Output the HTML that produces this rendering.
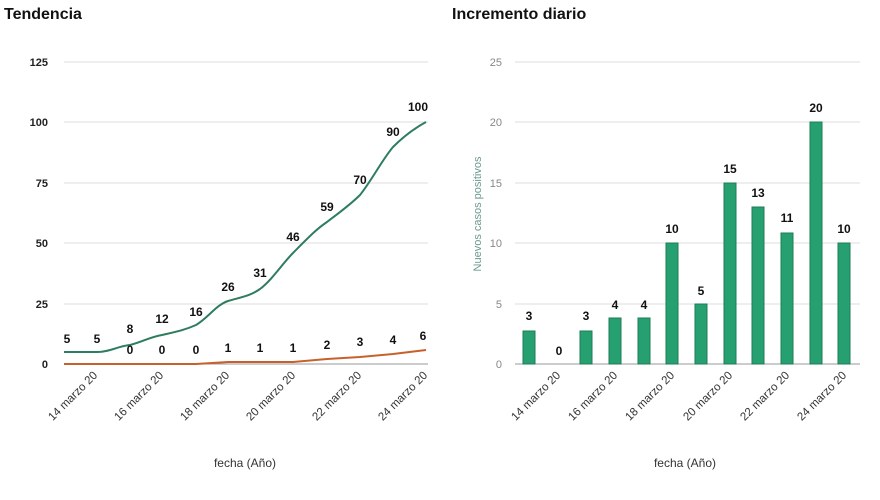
<!DOCTYPE html>
<html><head><meta charset="utf-8"><style>
body{margin:0;background:#fff;}
svg text{font-family:"Liberation Sans",sans-serif;}
</style></head><body>
<svg width="880" height="495" viewBox="0 0 880 495" xmlns="http://www.w3.org/2000/svg">
<text x="4" y="19" font-size="16" font-weight="bold" fill="#111">Tendencia</text>
<text x="452" y="19" font-size="16" font-weight="bold" fill="#111">Incremento diario</text>
<g stroke="#ddd" stroke-width="1">
<line x1="64" x2="428" y1="62" y2="62"/><line x1="64" x2="428" y1="122" y2="122"/><line x1="64" x2="428" y1="183" y2="183"/><line x1="64" x2="428" y1="243" y2="243"/><line x1="64" x2="428" y1="304" y2="304"/>
<line x1="515" x2="860" y1="62" y2="62"/><line x1="515" x2="860" y1="122" y2="122"/><line x1="515" x2="860" y1="183" y2="183"/><line x1="515" x2="860" y1="243" y2="243"/><line x1="515" x2="860" y1="304" y2="304"/>
</g>
<line x1="64" x2="428" y1="364" y2="364" stroke="#999"/>
<line x1="515" x2="860" y1="364" y2="364" stroke="#999"/>
<g font-size="11" font-weight="bold" fill="#222" text-anchor="end">
<text x="48" y="66">125</text><text x="48" y="126">100</text><text x="48" y="187">75</text><text x="48" y="247">50</text><text x="48" y="308">25</text><text x="48" y="368">0</text>
</g>
<g font-size="11" fill="#888" text-anchor="end">
<text x="502" y="66">25</text><text x="502" y="126">20</text><text x="502" y="187">15</text><text x="502" y="247">10</text><text x="502" y="308">5</text><text x="502" y="368">0</text>
</g>
<text transform="translate(481,214) rotate(-90)" font-size="11" fill="#6a9a8e" text-anchor="middle">Nuevos casos positivos</text>
<path d="M64,352 L97,352 C110,352 118,346 130,345 C142,342 150,337 162,335 C175,332 185,330 196,325 C208,318 216,305 228,301 C242,297 250,296 260,289 C272,280 282,264 293,253 C305,241 315,230 327,222 C340,212 350,205 360,195 C372,180 382,160 393,147 C405,135 415,128 426,122" fill="none" stroke="#2e7d5e" stroke-width="2"/>
<path d="M64,364 L196,364 L228,362 L293,362 L327,359 L360,357 L393,354 L426,350" fill="none" stroke="#c8602c" stroke-width="2"/>
<g font-size="12" font-weight="bold" fill="#111" text-anchor="middle">
<text x="67" y="343">5</text><text x="97" y="343">5</text><text x="130" y="333">8</text><text x="162" y="323">12</text><text x="196" y="316">16</text><text x="228" y="291">26</text><text x="260" y="277">31</text><text x="293" y="241">46</text><text x="327" y="211">59</text><text x="360" y="184">70</text><text x="393" y="136">90</text><text x="418" y="111">100</text>
<text x="130" y="354">0</text><text x="162" y="354">0</text><text x="196" y="354">0</text><text x="228" y="352">1</text><text x="260" y="352">1</text><text x="293" y="352">1</text><text x="327" y="349">2</text><text x="360" y="346">3</text><text x="393" y="344">4</text><text x="423" y="340">6</text>
</g>
<g fill="#26a070" stroke="#1c7d56" stroke-width="1">
<rect x="523" y="331" width="12" height="33"/><rect x="580" y="331" width="12" height="33"/><rect x="609" y="318" width="12" height="46"/><rect x="638" y="318" width="12" height="46"/><rect x="666" y="243" width="12" height="121"/><rect x="695" y="304" width="12" height="60"/><rect x="724" y="183" width="12" height="181"/><rect x="752" y="207" width="12" height="157"/><rect x="781" y="233" width="12" height="131"/><rect x="810" y="122" width="12" height="242"/><rect x="838" y="243" width="12" height="121"/>
</g>
<g font-size="12" font-weight="bold" fill="#111" text-anchor="middle">
<text x="529" y="320">3</text><text x="559" y="355">0</text><text x="586" y="320">3</text><text x="615" y="309">4</text><text x="644" y="309">4</text><text x="672" y="233">10</text><text x="701" y="295">5</text><text x="730" y="173">15</text><text x="758" y="197">13</text><text x="787" y="222">11</text><text x="816" y="112">20</text><text x="844" y="233">10</text>
</g>
<g font-size="11.5" fill="#333" text-anchor="end">
<text transform="translate(98,376) rotate(-45)">14 marzo 20</text>
<text transform="translate(164,376) rotate(-45)">16 marzo 20</text>
<text transform="translate(230,376) rotate(-45)">18 marzo 20</text>
<text transform="translate(296,376) rotate(-45)">20 marzo 20</text>
<text transform="translate(362,376) rotate(-45)">22 marzo 20</text>
<text transform="translate(428,376) rotate(-45)">24 marzo 20</text>
<text transform="translate(561,376) rotate(-45)">14 marzo 20</text>
<text transform="translate(618,376) rotate(-45)">16 marzo 20</text>
<text transform="translate(675,376) rotate(-45)">18 marzo 20</text>
<text transform="translate(733,376) rotate(-45)">20 marzo 20</text>
<text transform="translate(790,376) rotate(-45)">22 marzo 20</text>
<text transform="translate(847,376) rotate(-45)">24 marzo 20</text>
</g>
<text x="245" y="467" font-size="12" fill="#333" text-anchor="middle">fecha (Año)</text>
<text x="685" y="467" font-size="12" fill="#333" text-anchor="middle">fecha (Año)</text>
</svg>
</body></html>
